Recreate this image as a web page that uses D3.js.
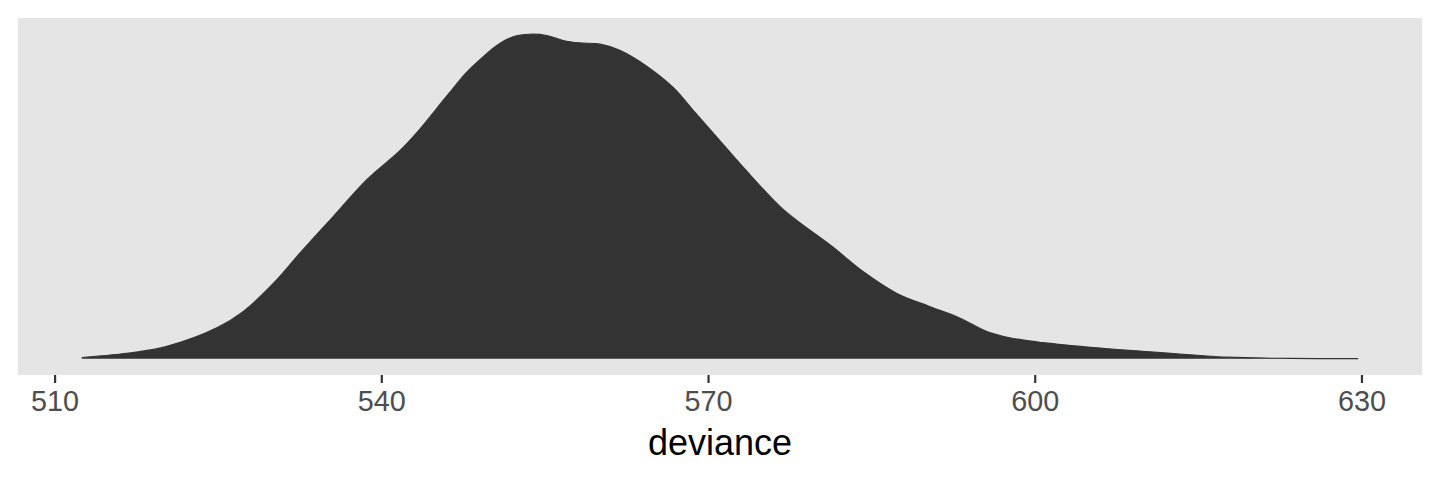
<!DOCTYPE html>
<html>
<head>
<meta charset="utf-8">
<script src="https://cdn.jsdelivr.net/npm/d3@7"></script>
<style>
  body { margin: 0; background: #fff; }
  text { font-family: "Liberation Sans", Arial, sans-serif; }
</style>
</head>
<body>
<div class="vis-density"></div>
<script>
// deviance values (x) and the estimated density at each (y)
const deviance = [512.5, 517.2, 520.3, 524.9, 527.3, 530.1, 532.5, 535.6, 538.6, 541.7,
  543.2, 546.0, 547.8, 549.0, 550.6, 552.1, 553.6, 555.2, 556.7, 558.2,
  560.1, 561.9, 564.4, 566.8, 568.6, 570.5, 573.5, 576.6, 578.4, 581.2,
  584.3, 587.3, 590.4, 593.1, 595.6, 597.7, 600.8, 605.4, 611.5, 617.6,
  623.4, 629.7];
const density = [0.0001, 0.0005, 0.0010, 0.0025, 0.0038, 0.0061, 0.0085, 0.0115, 0.0144, 0.0168,
  0.0182, 0.0212, 0.0231, 0.0241, 0.0253, 0.0260, 0.0262, 0.0261, 0.0257, 0.0255,
  0.0254, 0.0249, 0.0236, 0.0219, 0.0201, 0.0182, 0.0152, 0.0123, 0.0110, 0.0092,
  0.0070, 0.0053, 0.0042, 0.0033, 0.0022, 0.0017, 0.0013, 0.0009, 0.0005, 0.00013,
  0.00003, 0.00001];
const xTicks = [510, 540, 570, 600, 630];

const W = 1440, H = 480;
const margin = { top: 18, right: 18, bottom: 105, left: 18 };
const width = W - margin.left - margin.right;
const height = H - margin.top - margin.bottom;

const data = deviance.map((d, i) => ({ x: d, y: density[i] }));

const svg = d3.select(".vis-density")
  .append("svg")
  .attr("width", W)
  .attr("height", H);

const g = svg.append("g")
  .attr("transform", "translate(" + margin.left + "," + margin.top + ")");

// ggplot-like 5% expansion on both axes
const xExt = d3.extent(deviance);
const xPad = (xExt[1] - xExt[0]) * 0.05;
const x = d3.scaleLinear()
  .domain([xExt[0] - xPad, xExt[1] + xPad])
  .range([0, width]);

const yMax = d3.max(density);
const y = d3.scaleLinear()
  .domain([-yMax * 0.05, yMax * 1.05])
  .range([height, 0]);

const curve = d3.curveCatmullRom.alpha(0.5);

// panel background
g.append("rect")
  .attr("width", width)
  .attr("height", height)
  .attr("fill", "#E5E5E5");

// density area
g.append("path")
  .datum(data)
  .attr("fill", "#333333")
  .attr("stroke", "none")
  .attr("d", d3.area()
    .curve(curve)
    .x(d => x(d.x))
    .y0(y(0))
    .y1(d => y(d.y)));

// upper outline
g.append("path")
  .datum(data)
  .attr("fill", "none")
  .attr("stroke", "#333333")
  .attr("stroke-width", 1.1)
  .attr("d", d3.line()
    .curve(curve)
    .x(d => x(d.x))
    .y(d => y(d.y)));

// x axis
const xAxis = g.append("g")
  .attr("transform", "translate(0," + height + ")")
  .call(d3.axisBottom(x).tickValues(xTicks).tickSize(8).tickPadding(8));
xAxis.select(".domain").remove();
xAxis.selectAll(".tick line")
  .attr("stroke", "#333333")
  .attr("stroke-width", 2.2);
xAxis.selectAll(".tick text")
  .attr("fill", "#4D4D4D")
  .style("font-size", "28.8px");

// axis title
svg.append("text")
  .attr("x", margin.left + width / 2)
  .attr("y", 455)
  .attr("text-anchor", "middle")
  .attr("fill", "#000")
  .style("font-size", "36px")
  .text("deviance");
</script>
</body>
</html>
